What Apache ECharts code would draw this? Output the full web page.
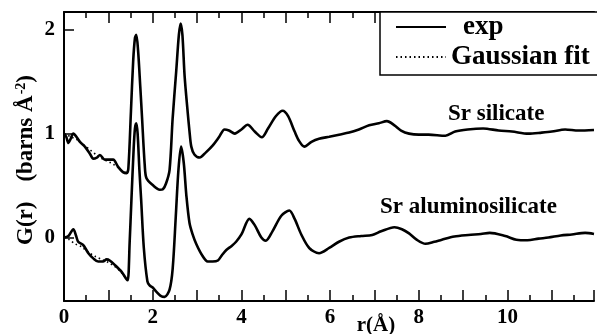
<!DOCTYPE html>
<html>
<head>
<meta charset="utf-8">
<script src="https://cdn.jsdelivr.net/npm/echarts@6/dist/echarts.min.js"></script>
<style>
html,body{margin:0;padding:0;background:#fff;}
#chart{width:597px;height:334px;}
</style>
</head>
<body>
<div id="chart"></div>
<script>
// Sr silicate (offset by +1), experimental
var rSil = [0.00,0.05,0.10,0.15,0.21,0.28,0.36,0.47,0.58,0.66,0.74,0.81,0.92,1.03,1.11,1.22,1.33,1.41,1.45,1.51,1.56,1.60,1.63,1.67,1.72,1.76,1.82,1.86,2.00,2.16,2.23,2.30,2.38,2.45,2.53,2.59,2.63,2.67,2.72,2.79,2.83,2.87,2.94,3.06,3.20,3.36,3.50,3.62,3.72,3.85,4.00,4.14,4.30,4.46,4.60,4.78,4.93,5.05,5.20,5.30,5.42,5.58,5.75,5.98,6.20,6.43,6.65,6.88,7.10,7.28,7.45,7.60,7.78,8.00,8.22,8.60,8.82,9.10,9.45,9.80,10.10,10.47,10.77,11.00,11.30,11.60,11.95];
var gSil = [1.00,0.97,0.91,0.95,1.00,0.97,0.92,0.875,0.81,0.76,0.77,0.795,0.75,0.75,0.75,0.68,0.63,0.62,0.66,1.22,1.70,1.92,1.95,1.80,1.45,1.15,0.70,0.57,0.505,0.46,0.465,0.52,0.65,1.15,1.60,1.95,2.06,1.95,1.55,1.20,1.02,0.875,0.80,0.77,0.82,0.89,0.97,1.04,1.03,1.00,1.04,1.085,1.02,0.965,1.05,1.17,1.22,1.17,1.02,0.93,0.875,0.92,0.95,0.97,0.99,1.01,1.04,1.08,1.10,1.12,1.08,1.03,1.00,0.99,0.99,0.98,1.02,1.04,1.05,1.03,1.02,1.00,1.01,1.02,1.04,1.03,1.035];
// Sr aluminosilicate, experimental
var rAlu = [0.00,0.10,0.21,0.27,0.32,0.43,0.55,0.66,0.77,0.88,0.96,1.03,1.15,1.30,1.41,1.44,1.48,1.52,1.57,1.60,1.63,1.66,1.70,1.74,1.80,1.88,1.93,2.00,2.08,2.18,2.27,2.38,2.45,2.52,2.58,2.64,2.70,2.76,2.83,2.90,2.98,3.10,3.24,3.35,3.47,3.56,3.66,3.78,3.88,4.00,4.18,4.30,4.45,4.55,4.70,4.90,5.08,5.20,5.35,5.53,5.75,5.98,6.20,6.43,6.70,6.95,7.15,7.45,7.62,7.78,7.95,8.15,8.35,8.52,8.80,9.12,9.40,9.60,9.95,10.20,10.45,10.70,10.92,11.20,11.45,11.75,11.95];
var gAlu = [0.00,0.015,0.08,0.02,-0.04,-0.07,-0.15,-0.20,-0.23,-0.23,-0.21,-0.22,-0.265,-0.33,-0.40,-0.41,-0.05,0.36,0.85,1.05,1.10,1.00,0.65,0.36,-0.10,-0.42,-0.46,-0.48,-0.52,-0.56,-0.57,-0.50,-0.30,0.20,0.65,0.875,0.72,0.40,0.14,0.03,-0.06,-0.16,-0.23,-0.23,-0.22,-0.17,-0.12,-0.08,-0.04,0.03,0.18,0.12,0.00,-0.03,0.06,0.21,0.26,0.18,0.03,-0.10,-0.15,-0.10,-0.04,0.00,0.015,0.025,0.06,0.10,0.08,0.04,-0.02,-0.06,-0.04,-0.02,0.01,0.025,0.035,0.045,0.015,-0.02,-0.025,-0.01,0.00,0.02,0.03,0.045,0.035];
// Gaussian fits (visible at low r)
var rFitSil = [0.00,0.15,0.30,0.45,0.60,0.75,0.90,1.05,1.20,1.32,1.41,1.45];
var gFitSil = [1.00,0.97,0.94,0.89,0.84,0.79,0.75,0.72,0.68,0.635,0.625,0.66];
var rFitAlu = [0.00,0.12,0.25,0.40,0.55,0.70,0.85,1.00,1.15,1.30,1.41,1.44];
var gFitAlu = [0.00,-0.02,-0.06,-0.09,-0.14,-0.18,-0.21,-0.24,-0.28,-0.34,-0.40,-0.41];

var legendNames = ['exp','Gaussian fit'];
var curveLabels = ['Sr silicate','Sr aluminosilicate'];
var xName = 'r(\u00C5)';

function pairs(xs, ys){ return xs.map(function(x,i){ return [x, ys[i]]; }); }

var SERIF = '"Liberation Serif", "DejaVu Serif", serif';
var chart = echarts.init(document.getElementById('chart'), null, {renderer:'canvas'});

var axisCommon = {
  type:'value', min:0, max:11.95, interval:1,
  axisLine:{show:true, onZero:false, lineStyle:{color:'#000', width:2}},
  axisTick:{show:true, inside:true, length:11, lineStyle:{color:'#000', width:1.5}},
  minorTick:{show:true, splitNumber:2, length:6, lineStyle:{color:'#000', width:1.5}},
  splitLine:{show:false}
};

var expStyle = {color:'#000', width:2.6};
var fitStyle = {color:'#000', width:1.6, type:[1.5,3]};

chart.setOption({
  animation:false,
  backgroundColor:'#fff',
  grid:{left:64, right:0, top:12, bottom:33},
  xAxis:[
    Object.assign({}, axisCommon, {
      position:'bottom',
      axisLabel:{show:true, margin:6, color:'#000', fontFamily:SERIF, fontWeight:'bold', fontSize:21,
        formatter:function(v){ return (Math.abs(v - Math.round(v))<1e-6 && Math.round(v)%2===0) ? String(Math.round(v)) : ''; }}
    }),
    Object.assign({}, axisCommon, {
      position:'top',
      axisLabel:{show:false}
    })
  ],
  yAxis:[{
    type:'value', min:-0.61, max:2.17, splitNumber:3,
    axisLine:{show:true, onZero:false, lineStyle:{color:'#000', width:2}},
    axisTick:{show:true, inside:true, length:10, lineStyle:{color:'#000', width:1.5}},
    splitLine:{show:false},
    axisLabel:{show:true, margin:9, color:'#000', fontFamily:SERIF, fontWeight:'bold', fontSize:21,
      formatter:function(v){ return Math.abs(v - Math.round(v))<1e-6 ? String(Math.round(v)) : ''; }}
  }],
  legend:{
    show:true, orient:'vertical', left:380, top:12,
    data:[{name:legendNames[0], textStyle:{padding:[0,0,0,12]}}, {name:legendNames[1]}],
    itemWidth:50, itemHeight:14, itemGap:2,
    padding:[1,40,4,15],
    borderColor:'#000', borderWidth:1.5, backgroundColor:'#fff',
    selectedMode:false,
    itemStyle:{opacity:0},
    textStyle:{color:'#000', fontFamily:SERIF, fontWeight:'bold', fontSize:27, lineHeight:28}
  },
  graphic:[
    {type:'text', x:448, y:114, style:{text:curveLabels[0], fill:'#000', font:'bold 23px ' + SERIF, textAlign:'left', textVerticalAlign:'middle'}},
    {type:'text', x:380, y:207, style:{text:curveLabels[1], fill:'#000', font:'bold 23px ' + SERIF, textAlign:'left', textVerticalAlign:'middle'}},
    {type:'text', x:376, y:326, style:{text:xName, fill:'#000', font:'bold 21px ' + SERIF, textAlign:'center', textVerticalAlign:'middle'}},
    {type:'text', x:26, y:160, rotation:Math.PI/2,
      style:{text:'{n|G(r)}      {n|(barns \u00C5}{s|-2}{n|)}', fill:'#000', textAlign:'center', textVerticalAlign:'middle',
        rich:{n:{fontFamily:SERIF, fontWeight:'bold', fontSize:23, fill:'#000'},
              s:{fontFamily:SERIF, fontWeight:'bold', fontSize:14, fill:'#000', verticalAlign:'top', padding:[0,0,0,1]}}}}
  ],
  series:[
    {name:legendNames[0], type:'line', data:pairs(rSil,gSil), symbol:'none', smooth:0.3, lineStyle:expStyle, itemStyle:{color:'#000'}, z:2},
    {name:legendNames[0], type:'line', data:pairs(rAlu,gAlu), symbol:'none', smooth:0.3, lineStyle:expStyle, itemStyle:{color:'#000'}, z:2},
    {name:legendNames[1], type:'line', data:pairs(rFitSil,gFitSil), symbol:'none', smooth:0.3, lineStyle:fitStyle, itemStyle:{color:'#000'}, z:3},
    {name:legendNames[1], type:'line', data:pairs(rFitAlu,gFitAlu), symbol:'none', smooth:0.3, lineStyle:fitStyle, itemStyle:{color:'#000'}, z:3}
  ]
});
</script>
</body>
</html>
